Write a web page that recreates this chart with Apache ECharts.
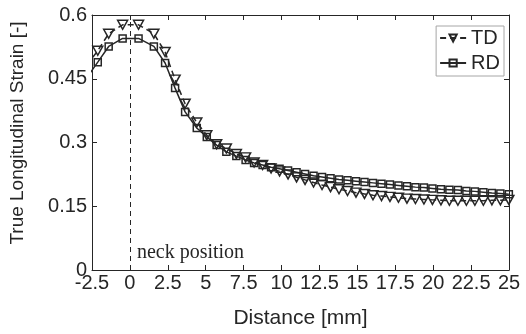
<!DOCTYPE html>
<html style="height: 100%">
	<head>
		<meta charset="utf-8">
	</head>
	<body style="height: 100%; margin: 0; background: #fff">
		<div id="container" style="width: 526px; height: 334px"></div>
		<script type="text/javascript" src="https://cdn.jsdelivr.net/npm/echarts@6/dist/echarts.min.js"></script>
		<script type="text/javascript">
			// distance along the specimen [mm]
			var distance = [-2.85, -2.12, -1.40, -0.48, 0.57, 1.58, 2.32, 2.98, 3.64, 4.41,
				5.07, 5.72, 6.36, 7.02, 7.63, 8.19, 8.75, 9.31, 9.87, 10.43,
				10.99, 11.55, 12.11, 12.67, 13.23, 13.79, 14.35, 14.91, 15.47, 16.03,
				16.59, 17.15, 17.71, 18.27, 18.83, 19.39, 19.95, 20.51, 21.07, 21.63,
				22.19, 22.75, 23.31, 23.87, 24.43, 24.99];

			var strainTD = [0.482, 0.516, 0.556, 0.577, 0.577, 0.556, 0.513, 0.448, 0.391, 0.347,
				0.317, 0.296, 0.286, 0.273, 0.265, 0.253, 0.247, 0.239, 0.232, 0.225,
				0.218, 0.212, 0.206, 0.200, 0.195, 0.190, 0.186, 0.182, 0.179, 0.176,
				0.174, 0.172, 0.170, 0.168, 0.167, 0.166, 0.165, 0.164, 0.163, 0.163,
				0.163, 0.163, 0.163, 0.164, 0.164, 0.165];

			var strainRD = [0.452, 0.489, 0.526, 0.545, 0.545, 0.526, 0.487, 0.428, 0.372, 0.334,
				0.313, 0.294, 0.278, 0.268, 0.259, 0.252, 0.247, 0.242, 0.238, 0.234,
				0.230, 0.226, 0.222, 0.219, 0.216, 0.213, 0.211, 0.209, 0.207, 0.205,
				0.203, 0.201, 0.199, 0.197, 0.195, 0.194, 0.192, 0.190, 0.189, 0.188,
				0.186, 0.185, 0.183, 0.181, 0.180, 0.178];

			var neckX = 0;
			var neckLabelY = 0.041;

			var dom = document.getElementById("container");
			var myChart = echarts.init(dom, null, { renderer: 'canvas' });

			var ink = '#262626';
			var sans = 'Liberation Sans';

			function pairs(ys) {
				var out = [];
				for (var i = 0; i < distance.length; i++) {
					out.push([distance[i], ys[i]]);
				}
				return out;
			}

			function boxAxis(pos, isX, showLabel) {
				var ax = {
					type: 'value',
					position: pos,
					axisLine: { show: true, onZero: false, lineStyle: { color: ink, width: 1 } },
					axisTick: { show: true, inside: true, length: 5, lineStyle: { color: ink } },
					splitLine: { show: false },
					axisLabel: { show: showLabel, color: ink, fontFamily: sans, fontSize: 20, margin: 3 }
				};
				if (isX) {
					ax.min = -2.5; ax.max = 25; ax.interval = 2.5;
				} else {
					ax.min = 0; ax.max = 0.6; ax.interval = 0.15;
				}
				return ax;
			}

			var xBottom = boxAxis('bottom', true, true);
			xBottom.name = 'Distance [mm]';
			xBottom.nameLocation = 'middle';
			xBottom.nameGap = 38;
			xBottom.nameTextStyle = { color: ink, fontFamily: sans, fontSize: 21 };

			var yLeft = boxAxis('left', false, true);
			yLeft.name = 'True Longitudinal Strain [-]';
			yLeft.nameLocation = 'middle';
			yLeft.nameGap = 65;
			yLeft.nameTextStyle = { color: ink, fontFamily: sans, fontSize: 19, padding: [0, 0, 0, 19] };
			yLeft.axisLabel.margin = 5;

			var option = {
				animation: false,
				backgroundColor: '#fff',
				grid: { left: 91, right: 17, top: 15, bottom: 58 },
				legend: {
					orient: 'vertical',
					right: 22,
					top: 26,
					padding: [2, 4, 3, 3],
					itemGap: 5,
					itemWidth: 26,
					itemHeight: 9,
					backgroundColor: '#fff',
					borderColor: '#a6a6a6',
					borderWidth: 1,
					textStyle: { color: ink, fontFamily: sans, fontSize: 20 },
					data: ['TD', 'RD']
				},
				xAxis: [xBottom, boxAxis('top', true, false)],
				yAxis: [yLeft, boxAxis('right', false, false)],
				series: [
					{
						name: 'TD',
						type: 'line',
						data: pairs(strainTD),
						symbol: 'triangle',
						symbolRotate: 180,
						symbolSize: [10, 9],
						showAllSymbol: true,
						lineStyle: { color: ink, width: 1.5, type: [6, 4] },
						itemStyle: { color: 'rgba(255,255,255,0)', borderColor: ink, borderWidth: 1.5 }
					},
					{
						name: 'RD',
						type: 'line',
						data: pairs(strainRD),
						symbol: 'rect',
						symbolSize: 7,
						showAllSymbol: true,
						lineStyle: { color: ink, width: 1.5 },
						itemStyle: { color: 'rgba(255,255,255,0)', borderColor: ink, borderWidth: 1.5 },
						markLine: {
							silent: true,
							symbol: ['none', 'none'],
							label: { show: false },
							lineStyle: { color: ink, width: 1, type: [5, 4] },
							data: [{ xAxis: neckX }]
						},
						markPoint: {
							silent: true,
							symbol: 'circle',
							symbolSize: 0,
							label: {
								show: true,
								position: 'right',
								distance: 7,
								color: ink,
								fontFamily: 'Liberation Serif',
								fontSize: 20,
								formatter: 'neck position'
							},
							data: [{ coord: [neckX, neckLabelY] }]
						}
					}
				]
			};

			myChart.setOption(option);
		</script>
	</body>
</html>
